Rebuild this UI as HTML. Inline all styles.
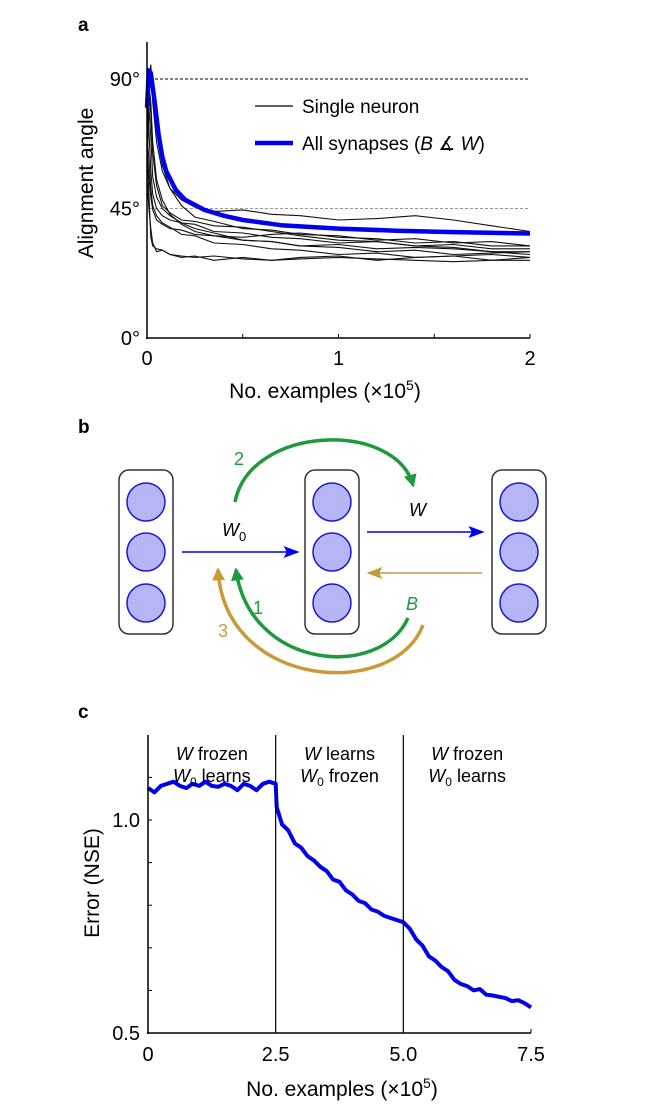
<!DOCTYPE html>
<html><head><meta charset="utf-8"><style>
body{margin:0;background:#fff}
svg{display:block;font-family:"Liberation Sans",sans-serif}
</style></head><body>
<svg id="fig" width="648" height="1106" viewBox="0 0 648 1106">
<text x="78" y="31" font-size="19" font-weight="bold">a</text>
<text x="78" y="433" font-size="19" font-weight="bold">b</text>
<text x="78" y="718" font-size="19" font-weight="bold">c</text>
<g id="pa"></g>
<g id="pb">
 <defs>
  <marker id="ab" viewBox="0 0 10 10" refX="9" refY="5" markerWidth="10" markerHeight="10" markerUnits="userSpaceOnUse" orient="auto"><path d="M0,0L10,5L0,10L2,5z" fill="#0000ee"/></marker>
  <marker id="ab2" viewBox="0 0 10 10" refX="9" refY="5" markerWidth="16" markerHeight="12" markerUnits="userSpaceOnUse" orient="auto" preserveAspectRatio="none"><path d="M0,0L10,5L0,10L2,5z" fill="#0000ee"/></marker>
  <marker id="ag" viewBox="0 0 10 10" refX="8" refY="5" markerWidth="13" markerHeight="13" markerUnits="userSpaceOnUse" orient="auto"><path d="M0,0L10,5L0,10z" fill="#1e9a3c"/></marker>
  <marker id="ao" viewBox="0 0 10 10" refX="8" refY="5" markerWidth="13" markerHeight="13" markerUnits="userSpaceOnUse" orient="auto"><path d="M0,0L10,5L0,10z" fill="#c99a3a"/></marker>
  <marker id="ao2" viewBox="0 0 10 10" refX="9" refY="5" markerWidth="16" markerHeight="12" markerUnits="userSpaceOnUse" orient="auto" preserveAspectRatio="none"><path d="M0,0L10,5L0,10L2,5z" fill="#c99a3a"/></marker>
 </defs>
 <g>
  <rect x="119" y="470" width="54" height="164" rx="10" fill="#fff" stroke="#333" stroke-width="1.5"/>
  <circle cx="146" cy="502" r="19" fill="#b7b5f5" stroke="#1a1ad0" stroke-width="1.5"/>
  <circle cx="146" cy="552" r="19" fill="#b7b5f5" stroke="#1a1ad0" stroke-width="1.5"/>
  <circle cx="146" cy="603" r="19" fill="#b7b5f5" stroke="#1a1ad0" stroke-width="1.5"/>
 </g>
 <g>
  <rect x="305" y="470" width="54" height="164" rx="10" fill="#fff" stroke="#333" stroke-width="1.5"/>
  <circle cx="332" cy="502" r="19" fill="#b7b5f5" stroke="#1a1ad0" stroke-width="1.5"/>
  <circle cx="332" cy="552" r="19" fill="#b7b5f5" stroke="#1a1ad0" stroke-width="1.5"/>
  <circle cx="332" cy="603" r="19" fill="#b7b5f5" stroke="#1a1ad0" stroke-width="1.5"/>
 </g>
 <g>
  <rect x="492" y="470" width="54" height="164" rx="10" fill="#fff" stroke="#333" stroke-width="1.5"/>
  <circle cx="519" cy="502" r="19" fill="#b7b5f5" stroke="#1a1ad0" stroke-width="1.5"/>
  <circle cx="519" cy="552" r="19" fill="#b7b5f5" stroke="#1a1ad0" stroke-width="1.5"/>
  <circle cx="519" cy="603" r="19" fill="#b7b5f5" stroke="#1a1ad0" stroke-width="1.5"/>
 </g>
 <line x1="182" y1="552" x2="298" y2="552" stroke="#0000ee" stroke-width="1.6" marker-end="url(#ab2)"/>
 <line x1="367" y1="532" x2="483" y2="532" stroke="#0000ee" stroke-width="1.6" marker-end="url(#ab2)"/>
 <line x1="482" y1="573" x2="368" y2="573" stroke="#c99a3a" stroke-width="1.6" marker-end="url(#ao2)"/>
 <path d="M235,502 C250,425 395,420 413,485" fill="none" stroke="#1e9a3c" stroke-width="3.5" marker-end="url(#ag)"/>
 <path d="M408,618 C380,680 250,670 236,570" fill="none" stroke="#1e9a3c" stroke-width="3.5" marker-end="url(#ag)"/>
 <path d="M423,625 C395,700 225,690 218,570" fill="none" stroke="#c99a3a" stroke-width="3.5" marker-end="url(#ao)"/>
 <text x="222" y="536" font-size="18" font-style="italic">W<tspan font-size="13" font-style="normal" dy="5">0</tspan></text>
 <text x="409" y="516" font-size="18" font-style="italic">W</text>
 <text x="234" y="465" font-size="18" fill="#1e9a3c">2</text>
 <text x="253" y="614" font-size="18" fill="#1e9a3c">1</text>
 <text x="218" y="637" font-size="18" fill="#c99a3a">3</text>
 <text x="406" y="610" font-size="18" font-style="italic" fill="#1e9a3c">B</text>
</g>
<g id="pc"></g>
</svg>
<script>
// ---------- Panel a data ----------
const aX = [0,0.01,0.02,0.03,0.05,0.08,0.12,0.18,0.25,0.35,0.5,0.65,0.8,1.0,1.2,1.4,1.6,1.8,2.0];
const neuron1 = [75,90,95,82,68,58,52,48,45.5,44,44.5,43,42.5,41,41.5,42.5,41,39,37];
const neuron2 = [70,85,92,88,72,60,52,46,42,40.5,38,37.5,36,35.5,34,34.5,33,33.5,32];
const neuron3 = [60,80,70,56,49,45,42.5,40,39.5,37,36.5,35,34.5,33,33.5,32,32.5,31,31];
const neuron4 = [65,50,35,32,31,30.5,29,28.5,28,28.5,27.5,27,27.5,28,27.5,27,26.5,27,27];
const neuron5 = [55,45,38,33,30,30.5,29,28,28.5,27,28,27,28,28.5,27,28,28.5,27,28];
const neuron6 = [70,62,52,46,42.5,40,38.5,36,35.5,33,32.5,31,30.5,29,29.5,28,28.5,29,28];
const neuron7 = [80,72,58,50,45,42.5,41,40,38,36.5,34,33.5,32,31.5,30,30.5,29,29.5,30];
const neuron8 = [75,85,78,64,53,46,43.5,41,40.5,39,38.5,37,35.5,34,33.5,32,31.5,30,30];
const neuron9 = [65,56,49,44.5,41,39.5,38,37.5,36,35.5,35,36,36.5,35,34.5,33,33.5,32,32];
const neuron10 = [85,88,82,68,55,48,43,39.5,37,35.5,34,33.5,32,32.5,31,31.5,31,30,29];
const blueX = [0,0.01,0.02,0.04,0.06,0.08,0.1,0.15,0.2,0.3,0.4,0.5,0.7,1.0,1.3,1.6,2.0];
const blueY = [80,93,92,82,71,63,58,51.5,48,44.5,42.5,41,39.2,38,37.3,36.8,36.3];
const aXTicks = [0,1,2];
const aYTicks = [0,45,90];
const aYTickLabels = ["0°","45°","90°"];

// ---------- Panel c data ----------
const cX = [0,0.125,0.25,0.375,0.5,0.625,0.75,0.875,1.0,1.125,1.25,1.375,1.5,1.625,1.75,1.875,2.0,2.125,2.25,2.375,2.5,2.52,2.625,2.75,2.875,3.0,3.125,3.25,3.375,3.5,3.625,3.75,3.875,4.0,4.125,4.25,4.375,4.5,4.625,4.75,4.875,5.0,5.125,5.25,5.375,5.5,5.625,5.75,5.875,6.0,6.125,6.25,6.375,6.5,6.625,6.75,6.875,7.0,7.125,7.25,7.375,7.5];
const cErr = [1.075,1.065,1.08,1.085,1.09,1.08,1.075,1.085,1.08,1.09,1.08,1.078,1.085,1.08,1.07,1.085,1.08,1.07,1.085,1.09,1.085,1.03,0.99,0.975,0.945,0.935,0.915,0.905,0.89,0.88,0.86,0.855,0.835,0.825,0.81,0.805,0.79,0.785,0.775,0.77,0.765,0.76,0.745,0.72,0.705,0.68,0.67,0.655,0.645,0.625,0.615,0.61,0.6,0.603,0.59,0.588,0.585,0.582,0.575,0.577,0.57,0.56];
const cXTicks = [0,2.5,5.0,7.5];
const cXTickLabels = ["0","2.5","5.0","7.5"];
const cYTicks = [0.5,0.6,0.7,0.8,0.9,1.0,1.1];
const cPhaseTop = ["W frozen","W learns","W frozen"];
const cPhaseBottom = [" learns"," frozen"," learns"];

const NS = "http://www.w3.org/2000/svg";
function mk(tag, attrs, parent){const e=document.createElementNS(NS,tag);for(const k in attrs)e.setAttribute(k,attrs[k]);parent.appendChild(e);return e;}

// ---- Panel a ----
const pa = document.getElementById('pa');
const ax = v => 147 + v/2*383;
const ay = v => 338 - v/90*259;
function linePath(xs, ys, fx, fy){return xs.map((x,i)=>(i?'L':'M')+fx(x).toFixed(1)+','+fy(ys[i]).toFixed(1)).join('');}
let e;
e = mk('line',{x1:150,y1:ay(90),x2:530,y2:ay(90),stroke:'#000','stroke-width':1,'stroke-dasharray':'3,2'},pa);


e = mk('line',{x1:150,y1:ay(45),x2:530,y2:ay(45),stroke:'#999','stroke-width':1,'stroke-dasharray':'3,2'},pa);


const neurons = [neuron1,neuron2,neuron3,neuron4,neuron5,neuron6,neuron7,neuron8,neuron9,neuron10];
neurons.forEach((n,i)=>{
  const p = mk('path',{d:linePath(aX,n,ax,ay),fill:'none',stroke:'#111','stroke-width':1.1},pa);
  
  
});
e = mk('path',{d:linePath(blueX,blueY,ax,ay),fill:'none',stroke:'#0000ee','stroke-width':4.5,'stroke-linejoin':'round'},pa);


e = mk('line',{x1:147,y1:42,x2:147,y2:339,stroke:'#000','stroke-width':1.5},pa);


e = mk('line',{x1:146,y1:338,x2:530,y2:338,stroke:'#000','stroke-width':1.5},pa);


[0.5,1,1.5,2].forEach(v=>{mk('line',{x1:ax(v),y1:338,x2:ax(v),y2:334,stroke:'#000','stroke-width':1},pa);});
aXTicks.forEach(v=>{
  const t = mk('text',{x:ax(v),y:365,'font-size':20,'text-anchor':'middle'},pa);
  t.textContent = v;
  
  
});
aYTicks.forEach((v,i)=>{
  const t = mk('text',{x:140,y:ay(v)+7,'font-size':20,'text-anchor':'end'},pa);
  t.textContent = aYTickLabels[i];
  
  
});
e = mk('text',{x:325,y:398,'font-size':21,'text-anchor':'middle'},pa);
e.innerHTML = 'No. examples (×10<tspan dy="-8" font-size="14">5</tspan><tspan dy="8">)</tspan>';


e = mk('text',{x:0,y:0,'font-size':21,'text-anchor':'middle',transform:'translate(93,183) rotate(-90)'},pa);
e.textContent = 'Alignment angle';


e = mk('line',{x1:255,y1:106,x2:293,y2:106,stroke:'#000','stroke-width':1.2},pa);


e = mk('text',{x:302,y:113,'font-size':19},pa);
e.textContent = 'Single neuron';


e = mk('line',{x1:255,y1:143,x2:293,y2:143,stroke:'#0000ee','stroke-width':4.5},pa);


e = mk('text',{x:302,y:150,'font-size':19},pa);
e.innerHTML = 'All synapses (<tspan font-style="italic">B</tspan> ∡ <tspan font-style="italic">W</tspan>)';



// ---- Panel c ----
const pc = document.getElementById('pc');
const cx = v => 148 + v/7.5*383;
const cy = v => 1033 - (v-0.5)*426;
e = mk('path',{d:linePath(cX,cErr,cx,cy),fill:'none',stroke:'#0000ee','stroke-width':4,'stroke-linejoin':'round'},pc);


e = mk('line',{x1:148,y1:735,x2:148,y2:1034,stroke:'#000','stroke-width':1.5},pc);


e = mk('line',{x1:147,y1:1033,x2:531,y2:1033,stroke:'#000','stroke-width':1.5},pc);


[2.5,5.0].forEach(v=>{
  const l = mk('line',{x1:cx(v),y1:735,x2:cx(v),y2:1033,stroke:'#000','stroke-width':1.2},pc);
  
  
});
mk('line',{x1:531,y1:1033,x2:531,y2:1029,stroke:'#000','stroke-width':1},pc);
cYTicks.forEach(v=>{mk('line',{x1:148,y1:cy(v),x2:152,y2:cy(v),stroke:'#000','stroke-width':1},pc);});
[[1.0,'1.0'],[0.5,'0.5']].forEach(([v,s])=>{
  const t = mk('text',{x:140,y:cy(v)+7,'font-size':20,'text-anchor':'end'},pc);
  t.textContent = s;
  
  
});
cXTicks.forEach((v,i)=>{
  const t = mk('text',{x:cx(v),y:1061,'font-size':20,'text-anchor':'middle'},pc);
  t.textContent = cXTickLabels[i];
  
  
});
e = mk('text',{x:342,y:1096,'font-size':21,'text-anchor':'middle'},pc);
e.innerHTML = 'No. examples (×10<tspan dy="-8" font-size="14">5</tspan><tspan dy="8">)</tspan>';


e = mk('text',{x:0,y:0,'font-size':21,'text-anchor':'middle',transform:'translate(99,883) rotate(-90)'},pc);
e.textContent = 'Error (NSE)';


[1.25,3.75,6.25].forEach((v,i)=>{
  const top = cPhaseTop[i].split(' ');
  const t1 = mk('text',{x:cx(v),y:760,'font-size':18,'text-anchor':'middle'},pc);
  t1.innerHTML = '<tspan font-style="italic">'+top[0]+'</tspan> '+top[1];
  
  
  const t2 = mk('text',{x:cx(v),y:782,'font-size':18,'text-anchor':'middle'},pc);
  t2.innerHTML = '<tspan font-style="italic">W</tspan><tspan font-size="12" dy="4">0</tspan><tspan dy="-4">'+cPhaseBottom[i]+'</tspan>';
  
  
});
</script>
</body></html>
